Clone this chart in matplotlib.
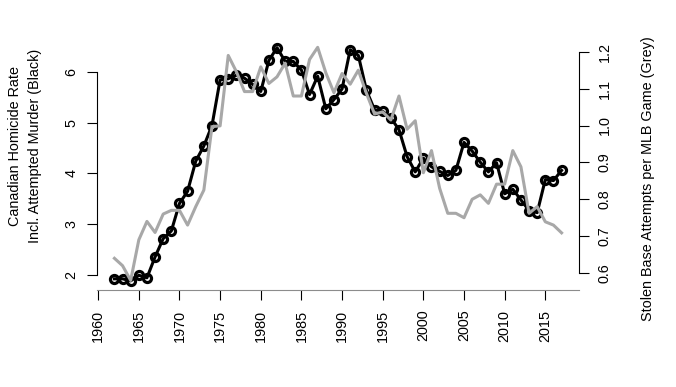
import matplotlib
matplotlib.use("Agg")
import matplotlib.pyplot as plt

plt.rcParams['font.family'] = ['Liberation Sans', 'DejaVu Sans']

# homicide rate (black, left axis)
years = list(range(1962, 2018))
homicide = [1.93, 1.93, 1.89, 2.00, 1.95, 2.36, 2.72, 2.87, 3.41, 3.65,
            4.24, 4.54, 4.94, 5.84, 5.86, 5.93, 5.87, 5.75, 5.61, 6.22,
            6.47, 6.20, 6.20, 6.03, 5.55, 5.91, 5.27, 5.45, 5.66, 6.43,
            6.32, 5.63, 5.25, 5.22, 5.09, 4.86, 4.33, 4.03, 4.30, 4.13,
            4.04, 3.96, 4.06, 4.61, 4.44, 4.22, 4.03, 4.21, 3.60, 3.69,
            3.48, 3.27, 3.23, 3.88, 3.86, 4.06]

# stolen base attempts per game (grey, right axis)
steals = [0.64, 0.62, 0.58, 0.69, 0.74, 0.71, 0.76, 0.77, 0.77, 0.73,
          0.78, 0.825, 0.997, 0.999, 1.19, 1.146, 1.092, 1.092, 1.159, 1.114,
          1.132, 1.169, 1.08, 1.08, 1.179, 1.212, 1.143, 1.089, 1.141, 1.112,
          1.150, 1.087, 1.031, 1.037, 1.015, 1.08, 0.99, 1.013, 0.872, 0.932,
          0.83, 0.762, 0.762, 0.75, 0.80, 0.812, 0.789, 0.841, 0.841, 0.932,
          0.888, 0.762, 0.78, 0.739, 0.73, 0.709]

xticks = list(range(1960, 2020, 5))
left_ticks = [2, 3, 4, 5, 6]
right_ticks = [0.6, 0.7, 0.8, 0.9, 1.0, 1.1, 1.2]

FS = 10.4

fig = plt.figure(figsize=(6.76, 3.87), dpi=100)
ax = fig.add_axes([0.1428, 0.2506, 0.7144, 0.6538])
ax.plot(years, homicide, color='black', lw=2.2, marker='o', ms=5.8,
        mfc='none', mec='black', mew=2.3, zorder=2)
ax.set_xlim(1959.8, 2019.2)
ax.set_ylim(1.71, 6.68)

ax2 = ax.twinx()
ax2.plot(years, steals, color='#a8a8a8', lw=2.2, zorder=3)
ax2.set_ylim(0.554, 1.24)

tick_kw = dict(length=7.2, width=0.8, labelsize=FS, color='black')
ax.set_xticks(xticks)
ax.set_xticklabels([str(t) for t in xticks], rotation=90)
ax.tick_params(axis='x', direction='out', pad=7, **tick_kw)
ax.set_yticks(left_ticks)
ax.set_yticklabels([str(t) for t in left_ticks], rotation=90, va='center')
ax.tick_params(axis='y', direction='out', pad=6, **tick_kw)
ax2.set_yticks(right_ticks)
ax2.set_yticklabels(['%.1f' % t for t in right_ticks], rotation=90, va='center')
ax2.tick_params(axis='y', direction='out', pad=6, **tick_kw)

for a in (ax, ax2):
    a.spines['top'].set_visible(False)
    a.patch.set_visible(False)
ax.spines['right'].set_visible(False)
ax2.spines['left'].set_visible(False)
ax2.spines['bottom'].set_visible(False)
ax.spines['left'].set_bounds(2, 6)
ax2.spines['right'].set_bounds(0.6, 1.2)
ax.spines['bottom'].set_color('#8c8c8c')
for s in ('left', 'bottom'):
    ax.spines[s].set_linewidth(0.8)
ax2.spines['right'].set_linewidth(0.8)

fig.text(15 / 676, 1 - 146 / 387, 'Canadian Homicide Rate', rotation=90,
         ha='center', va='center', fontsize=FS)
fig.text(35 / 676, 1 - 146 / 387, 'Incl. Attempted Murder (Black)', rotation=90,
         ha='center', va='center', fontsize=FS)
fig.text(648 / 676, 1 - 179 / 387, 'Stolen Base Attempts per MLB Game (Grey)',
         rotation=90, ha='center', va='center', fontsize=FS)

fig.savefig('out.png', dpi=100)
